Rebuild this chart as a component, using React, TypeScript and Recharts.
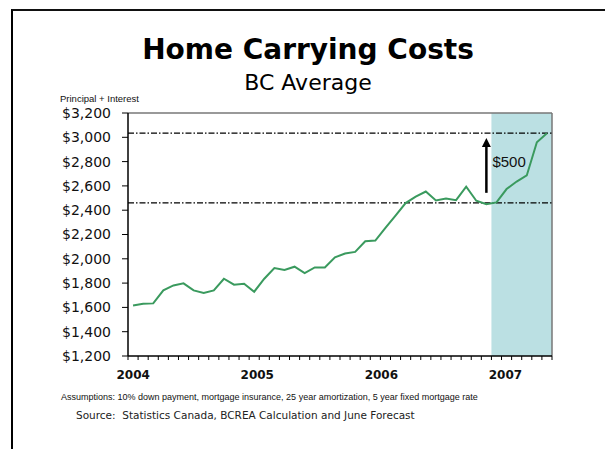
import { LineChart, Line, XAxis, YAxis, ReferenceArea, ReferenceLine } from "recharts";

// monthly principal + interest, Jan 2004 .. Jun 2007 (last six are forecast)
const years = ["2004", "2005", "2006", "2007"];
const cost = [
  1616, 1630, 1633, 1740, 1781, 1798, 1740, 1718, 1740, 1836, 1787, 1795,
  1729, 1836, 1924, 1908, 1935, 1883, 1929, 1929, 2012, 2043, 2057, 2144,
  2150, 2254, 2355, 2459, 2511, 2554, 2480, 2497, 2483, 2593, 2478, 2450,
  2464, 2574, 2636, 2686, 2959, 3033,
];
const yTicks = [1200, 1400, 1600, 1800, 2000, 2200, 2400, 2600, 2800, 3000, 3200];
const lowLevel = 2460;
const highLevel = 3035;
const forecastStart = 36;
const arrowMonth = 35.5;
const arrowFrom = 2543;
const arrowTo = 2995;
const arrowLabel = "$500";

const data = cost.map((v, i) => ({ m: i + 0.5, cost: v }));
const monthTicks = Array.from({ length: cost.length + 1 }, (_, i) => i);
const yearTicks = years.map((_, i) => i * 12 + 0.5);

const axisFont = "'DejaVu Sans', sans-serif";

function Arrow(props: any) {
  const { x1, y1, x2, y2 } = props;
  const x = (x1 + x2) / 2;
  const top = Math.min(y1, y2);
  const bottom = Math.max(y1, y2);
  return (
    <g>
      <line x1={x} x2={x} y1={bottom} y2={top + 8} stroke="#000" strokeWidth={2.5} />
      <polygon points={`${x},${top} ${x - 4.5},${top + 9} ${x + 4.5},${top + 9}`} fill="#000" />
      <text
        x={x + 6}
        y={(top + bottom) / 2 - 4}
        dominantBaseline="central"
        fontSize={15}
        fontFamily="'Liberation Sans', Arial, sans-serif"
        fill="#111"
      >
        {arrowLabel}
      </text>
    </g>
  );
}

export default function App() {
  return (
    <div style={{ position: "absolute", left: 0, top: 0, width: 605, height: 449, background: "#fff", overflow: "hidden" }}>
      <div style={{ position: "absolute", left: 11, top: 9, right: -4, bottom: -4, borderLeft: "2px solid #000", borderTop: "2px solid #111" }} />
      <div
        style={{
          position: "absolute", left: 108, width: 400, top: 36, textAlign: "center",
          font: "bold 28px/28px 'DejaVu Sans', sans-serif", color: "#000",
        }}
      >
        Home Carrying Costs
      </div>
      <div
        style={{
          position: "absolute", left: 108, width: 400, top: 72, textAlign: "center",
          font: "22px/22px 'DejaVu Sans', sans-serif", color: "#000",
        }}
      >
        BC Average
      </div>
      <div
        style={{
          position: "absolute", left: 60, top: 94, whiteSpace: "nowrap",
          font: "9.5px/10px 'Liberation Sans', Arial, sans-serif", color: "#111",
        }}
      >
        Principal + Interest
      </div>

      <div style={{ position: "absolute", left: 0, top: 0 }}>
        <LineChart width={605} height={449} data={data} margin={{ top: 113, right: 53, bottom: 55, left: 0 }}>
          <ReferenceArea
            xAxisId="m"
            x1={forecastStart}
            x2={cost.length}
            y1={1200}
            y2={3200}
            fill="#bbe0e3"
            fillOpacity={1}
            stroke="none"
          />
          <XAxis
            xAxisId="m"
            dataKey="m"
            type="number"
            domain={[0, cost.length]}
            ticks={monthTicks}
            interval={0}
            tickFormatter={() => ""}
            tickSize={4}
            height={8}
            axisLine={{ stroke: "#000", strokeWidth: 1.5 }}
            tickLine={{ stroke: "#000" }}
          />
          <XAxis
            xAxisId="yr"
            type="number"
            domain={[0, cost.length]}
            ticks={yearTicks}
            interval={0}
            tickFormatter={(v) => years[Math.floor(Number(v) / 12)]}
            axisLine={false}
            tickLine={false}
            tickSize={0}
            tickMargin={6}
            height={30}
            tick={{ fontSize: 12, fontWeight: "bold", fontFamily: axisFont, fill: "#111" }}
          />
          <YAxis
            domain={[1200, 3200]}
            ticks={yTicks}
            interval={0}
            width={128}
            tickSize={6}
            tickMargin={11}
            tickFormatter={(v) => `$${Number(v).toLocaleString("en-US")}`}
            axisLine={{ stroke: "#000", strokeWidth: 1.5 }}
            tickLine={{ stroke: "#000" }}
            tick={{ fontSize: 14, fontFamily: axisFont, fill: "#111" }}
          />
          <ReferenceLine xAxisId="m" y={3200} stroke="#777" strokeWidth={1.5} />
          <ReferenceLine xAxisId="m" x={cost.length} stroke="#777" strokeWidth={1.5} />
          <ReferenceLine xAxisId="m" y={highLevel} stroke="#000" strokeWidth={1.3} strokeDasharray="6 2 1.5 2" />
          <ReferenceLine xAxisId="m" y={lowLevel} stroke="#000" strokeWidth={1.3} strokeDasharray="6 2 1.5 2" />
          <Line
            xAxisId="m"
            dataKey="cost"
            type="linear"
            stroke="#3a9a5e"
            strokeWidth={2}
            dot={false}
            isAnimationActive={false}
          />
          <ReferenceLine
            xAxisId="m"
            segment={[
              { x: arrowMonth, y: arrowFrom },
              { x: arrowMonth, y: arrowTo },
            ]}
            shape={<Arrow />}
          />
        </LineChart>
      </div>

      <div
        style={{
          position: "absolute", left: 61, top: 392, whiteSpace: "nowrap",
          font: "9px/10px 'Liberation Sans', Arial, sans-serif", color: "#111",
        }}
      >
        Assumptions: 10% down payment, mortgage insurance, 25 year amortization, 5 year fixed mortgage rate
      </div>
      <div
        style={{
          position: "absolute", left: 76, top: 409, whiteSpace: "pre",
          font: "10.5px/12px 'DejaVu Sans', sans-serif", color: "#222",
        }}
      >
        {"Source:  Statistics Canada, BCREA Calculation and June Forecast"}
      </div>
    </div>
  );
}
